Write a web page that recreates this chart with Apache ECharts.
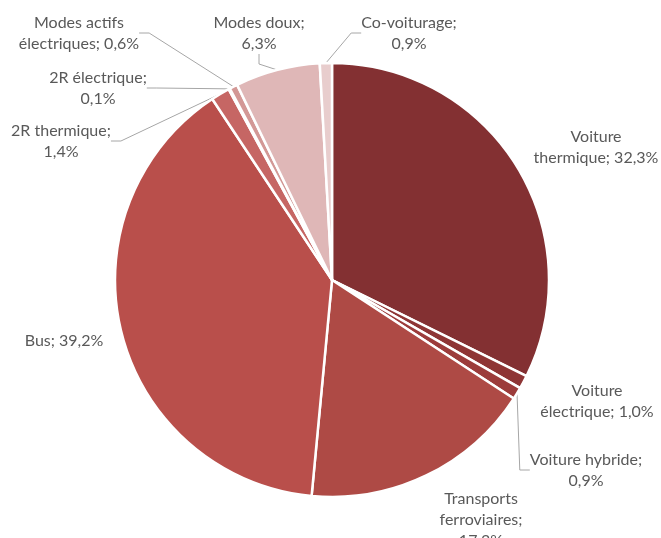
<!DOCTYPE html>
<html>
<head>
<meta charset="utf-8">
<script src="https://cdn.jsdelivr.net/npm/echarts@6/dist/echarts.min.js"></script>
<style>
  html, body { margin: 0; padding: 0; background: #ffffff; }
  #chart { width: 661px; height: 538px; }
</style>
</head>
<body>
<div id="chart"></div>
<script>
// Répartition modale (%)
const categories = [
  'Voiture thermique',
  'Voiture électrique',
  'Voiture hybride',
  'Transports ferroviaires',
  'Bus',
  '2R thermique',
  '2R électrique',
  'Modes actifs électriques',
  'Modes doux',
  'Co-voiturage'
];
const values = [32.3, 1.0, 0.9, 17.3, 39.2, 1.4, 0.1, 0.6, 6.3, 0.9];
// label text as wrapped over lines ({v} = value)
const labelTexts = [
  'Voiture\nthermique; {v}',
  'Voiture\nélectrique; {v}',
  'Voiture hybride;\n{v}',
  'Transports\nferroviaires;\n{v}',
  'Bus; {v}',
  '2R thermique;\n{v}',
  '2R électrique;\n{v}',
  'Modes actifs\nélectriques; {v}',
  'Modes doux;\n{v}',
  'Co-voiturage;\n{v}'
];
const colors = [
  '#833032', '#8e3535', '#9c3c3b', '#ae4a45', '#b94f4b',
  '#c66664', '#cc7a78', '#d39896', '#dfb7b7', '#e8cdcd'
];
// which labels get a leader line
const withLine = [false, false, true, false, false, true, true, true, true, true];
// label block centres (x, y) in pixels
const labelPos = [
  [596, 147], [597, 401], [586, 470], [481, 520], [64, 341],
  [61, 141], [98, 88], [79, 33], [259, 33], [409, 33]
];

const fmt = v => v.toFixed(1).replace('.', ',') + '%';

const chart = echarts.init(document.getElementById('chart'), null, { renderer: 'canvas' });
chart.setOption({
  animation: false,
  series: [{
    type: 'pie',
    center: [332, 280],
    radius: [0, 217],
    startAngle: 90,
    clockwise: true,
    avoidLabelOverlap: false,
    itemStyle: { borderColor: '#ffffff', borderWidth: 2.5 },
    label: {
      show: true,
      position: 'outside',
      fontFamily: 'Lato',
      fontSize: 16,
      lineHeight: 21,
      color: '#595959',
      align: 'center',
      formatter: p => labelTexts[p.dataIndex].replace('{v}', fmt(p.value))
    },
    labelLine: {
      show: true,
      lineStyle: { color: '#a6a6a6', width: 1 },
      length: 10,
      length2: 10
    },
    labelLayout: params => {
      const p = labelPos[params.dataIndex];
      return {
        x: p[0],
        y: p[1],
        align: 'center',
        verticalAlign: 'middle'
      };
    },
    data: categories.map((c, i) => ({
      name: c,
      value: values[i],
      itemStyle: { color: colors[i] },
      labelLine: { show: withLine[i] }
    }))
  }]
});
</script>
</body>
</html>
